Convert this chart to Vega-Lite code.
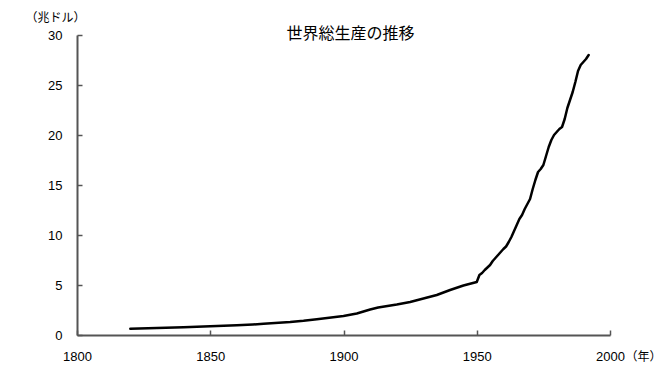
{
  "$schema": "https://vega.github.io/schema/vega-lite/v6.json",
  "autosize": "none",
  "width": 533,
  "height": 300,
  "padding": {"left": 77, "top": 35, "right": 59, "bottom": 43},
  "background": "white",
  "title": {
    "text": "世界総生産の推移",
    "font": "Noto Sans CJK JP",
    "fontSize": 16,
    "fontWeight": "normal",
    "color": "#000000",
    "baseline": "alphabetic",
    "offset": -44,
    "dx": 7
  },
  "config": {
    "view": {"stroke": null},
    "axis": {
      "grid": false,
      "domainColor": "#555555",
      "domainWidth": 2,
      "tickColor": "#555555",
      "tickWidth": 1.5,
      "tickSize": -5,
      "labelFont": "Liberation Sans",
      "labelFontSize": 13,
      "labelColor": "#000000",
      "labelPadding": 20,
      "labelFlush": false,
      "titleFont": "Noto Sans CJK JP",
      "titleFontSize": 12,
      "titleFontWeight": "normal",
      "titleColor": "#000000"
    }
  },
  "data": {
    "values": [
      {"year": 1820, "gdp": 0.62},
      {"year": 1830, "gdp": 0.70},
      {"year": 1840, "gdp": 0.78},
      {"year": 1850, "gdp": 0.87},
      {"year": 1860, "gdp": 0.97},
      {"year": 1866, "gdp": 1.05},
      {"year": 1870, "gdp": 1.12},
      {"year": 1880, "gdp": 1.30},
      {"year": 1885, "gdp": 1.42},
      {"year": 1890, "gdp": 1.58},
      {"year": 1900, "gdp": 1.90},
      {"year": 1905, "gdp": 2.15},
      {"year": 1910, "gdp": 2.55},
      {"year": 1913, "gdp": 2.75},
      {"year": 1920, "gdp": 3.05},
      {"year": 1925, "gdp": 3.30},
      {"year": 1930, "gdp": 3.65},
      {"year": 1935, "gdp": 4.00},
      {"year": 1940, "gdp": 4.50},
      {"year": 1945, "gdp": 4.95},
      {"year": 1950, "gdp": 5.30},
      {"year": 1951, "gdp": 6.00},
      {"year": 1952, "gdp": 6.20},
      {"year": 1953, "gdp": 6.50},
      {"year": 1954, "gdp": 6.75},
      {"year": 1955, "gdp": 7.00},
      {"year": 1956, "gdp": 7.40},
      {"year": 1957, "gdp": 7.70},
      {"year": 1958, "gdp": 8.00},
      {"year": 1959, "gdp": 8.30},
      {"year": 1960, "gdp": 8.60},
      {"year": 1961, "gdp": 8.85},
      {"year": 1962, "gdp": 9.30},
      {"year": 1963, "gdp": 9.80},
      {"year": 1964, "gdp": 10.40},
      {"year": 1965, "gdp": 11.00},
      {"year": 1966, "gdp": 11.60},
      {"year": 1967, "gdp": 12.00},
      {"year": 1968, "gdp": 12.60},
      {"year": 1969, "gdp": 13.10},
      {"year": 1970, "gdp": 13.60},
      {"year": 1971, "gdp": 14.60},
      {"year": 1972, "gdp": 15.50},
      {"year": 1973, "gdp": 16.30},
      {"year": 1974, "gdp": 16.60},
      {"year": 1975, "gdp": 17.00},
      {"year": 1976, "gdp": 17.90},
      {"year": 1977, "gdp": 18.80},
      {"year": 1978, "gdp": 19.50},
      {"year": 1979, "gdp": 20.00},
      {"year": 1980, "gdp": 20.30},
      {"year": 1981, "gdp": 20.60},
      {"year": 1982, "gdp": 20.80},
      {"year": 1983, "gdp": 21.60},
      {"year": 1984, "gdp": 22.70},
      {"year": 1985, "gdp": 23.50},
      {"year": 1986, "gdp": 24.30},
      {"year": 1987, "gdp": 25.30},
      {"year": 1988, "gdp": 26.40},
      {"year": 1989, "gdp": 27.00},
      {"year": 1990, "gdp": 27.30},
      {"year": 1991, "gdp": 27.60},
      {"year": 1992, "gdp": 28.00}
    ]
  },
  "mark": {"type": "line", "color": "#000000", "strokeWidth": 2.5, "strokeJoin": "round", "strokeCap": "round"},
  "encoding": {
    "x": {
      "field": "year",
      "type": "quantitative",
      "scale": {"domain": [1800, 2000], "nice": false, "zero": false},
      "axis": {
        "values": [1800, 1850, 1900, 1950, 2000],
        "format": "d",
        "title": "（年）",
        "titleX": 566,
        "titleY": 21,
        "titleAlign": "center",
        "titleBaseline": "middle",
        "titleAngle": 0
      }
    },
    "y": {
      "field": "gdp",
      "type": "quantitative",
      "scale": {"domain": [0, 30], "nice": false},
      "axis": {
        "values": [0, 5, 10, 15, 20, 25, 30],
        "title": "（兆ドル）",
        "titleX": -22,
        "titleY": -18,
        "titleAlign": "center",
        "titleBaseline": "middle",
        "titleAngle": 0
      }
    }
  }
}
